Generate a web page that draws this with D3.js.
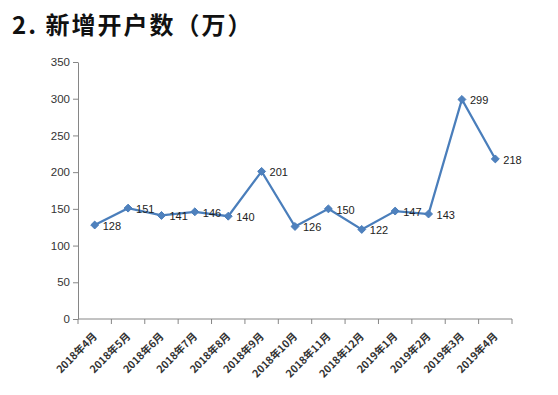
<!DOCTYPE html>
<html>
<head>
<meta charset="utf-8">
<script src="https://cdn.jsdelivr.net/npm/d3@7"></script>
<style>
  body { margin: 0; background: #fff; }
  svg { display: block; }
  text { font-family: "Noto Sans CJK SC", "DejaVu Sans", sans-serif; }
</style>
</head>
<body>
<div id="chart"></div>
<script>
const months = ["2018年4月", "2018年5月", "2018年6月", "2018年7月", "2018年8月", "2018年9月",
  "2018年10月", "2018年11月", "2018年12月", "2019年1月", "2019年2月", "2019年3月", "2019年4月"];
const newAccounts = [128, 151, 141, 146, 140, 201, 126, 150, 122, 147, 143, 299, 218];
const yTicks = [0, 50, 100, 150, 200, 250, 300, 350];

const W = 558, H = 395;
const M = { left: 78, right: 46, top: 62, bottom: 76 };

const svg = d3.select("#chart").append("svg")
  .attr("width", W).attr("height", H);

svg.append("text")
  .attr("x", 12).attr("y", 34)
  .attr("font-size", 24)
  .attr("font-weight", "bold")
  .attr("letter-spacing", 2)
  .attr("fill", "#111")
  .text("2. 新增开户数（万）");

const x = d3.scaleBand().domain(months).range([M.left, W - M.right]);
const y = d3.scaleLinear().domain([0, 350]).range([H - M.bottom, M.top]);

// y axis
const yAxis = svg.append("g")
  .attr("transform", `translate(${M.left},0)`)
  .call(d3.axisLeft(y).tickValues(yTicks).tickSize(5).tickSizeOuter(0).tickPadding(3));
yAxis.selectAll("text").attr("font-size", 11.5).attr("fill", "#333")
  .style("font-family", "'Liberation Sans', Arial, sans-serif");
yAxis.select(".domain").attr("stroke", "#868686");
yAxis.selectAll(".tick line").attr("stroke", "#868686");

// x axis, ticks sit on the band boundaries
const xAxis = svg.append("g")
  .attr("transform", `translate(0,${y(0)})`);
xAxis.append("line")
  .attr("x1", M.left).attr("x2", W - M.right)
  .attr("stroke", "#868686");
const bounds = months.map(m => x(m)).concat([x(months[months.length - 1]) + x.bandwidth()]);
xAxis.selectAll("line.tk").data(bounds).enter().append("line")
  .attr("class", "tk")
  .attr("x1", d => d).attr("x2", d => d)
  .attr("y1", 0).attr("y2", 5)
  .attr("stroke", "#868686");
xAxis.selectAll("text").data(months).enter().append("text")
  .attr("transform", d => `translate(${x(d) + x.bandwidth() / 2 + 3},${18}) rotate(-45)`)
  .attr("text-anchor", "end")
  .attr("font-size", 10.5)
  .attr("font-weight", "bold")
  .attr("fill", "#333")
  .text(d => d);

// line
const line = d3.line()
  .x((d, i) => x(months[i]) + x.bandwidth() / 2)
  .y(d => y(d));

svg.append("path")
  .datum(newAccounts)
  .attr("fill", "none")
  .attr("stroke", "#4A7EBB")
  .attr("stroke-width", 2.25)
  .attr("d", line);

svg.selectAll("path.pt").data(newAccounts).enter().append("path")
  .attr("class", "pt")
  .attr("d", d3.symbol().type(d3.symbolDiamond2).size(40))
  .attr("transform", (d, i) => `translate(${x(months[i]) + x.bandwidth() / 2},${y(d)})`)
  .attr("fill", "#4F81BD")
  .attr("stroke", "#4A7EBB");

svg.selectAll("text.lbl").data(newAccounts).enter().append("text")
  .attr("class", "lbl")
  .attr("x", (d, i) => x(months[i]) + x.bandwidth() / 2 + 8)
  .attr("y", d => y(d) + 5)
  .attr("font-size", 11)
  .attr("fill", "#222")
  .style("font-family", "'Liberation Sans', Arial, sans-serif")
  .text(d => d);
</script>
</body>
</html>
